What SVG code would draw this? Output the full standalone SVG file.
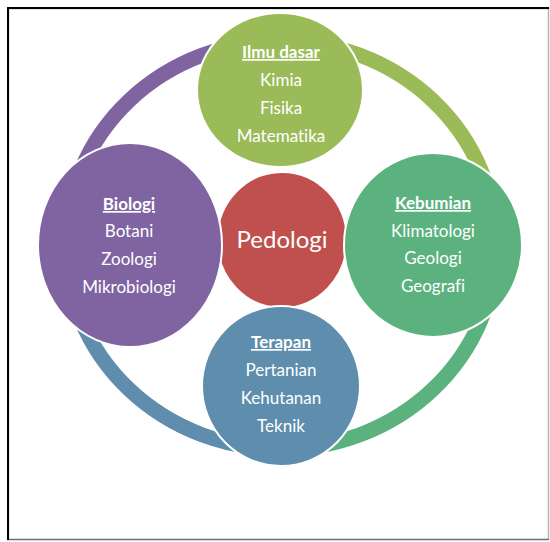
<svg xmlns="http://www.w3.org/2000/svg" width="550" height="542" viewBox="0 0 550 542">
  <style>
    .ring { fill: none; stroke-width: 15; }
    .node { stroke: #ffffff; stroke-width: 2; }
    .t { font-family: Lato, "Liberation Sans", sans-serif; font-size: 17px; fill: #ffffff; text-anchor: middle; font-variant-ligatures: none; }
    .h { font-weight: bold; text-decoration: underline; }
    .big { font-size: 24px; }
  </style>
  <rect x="0" y="0" width="550" height="542" fill="#ffffff"/>
  <g id="frame">
    <line x1="9.5" y1="9.5" x2="548" y2="9.5" stroke="#e6e6e6" stroke-width="1"/>
    <line x1="9.5" y1="9.5" x2="9.5" y2="538" stroke="#e6e6e6" stroke-width="1"/>
    <line x1="548.5" y1="7" x2="548.5" y2="540" stroke="#b4b4b4" stroke-width="1.5"/>
    <line x1="7" y1="539.5" x2="549" y2="539.5" stroke="#6e6e6e" stroke-width="1.5"/>
    <line x1="7" y1="8" x2="549" y2="8" stroke="#000000" stroke-width="2"/>
    <line x1="8" y1="7" x2="8" y2="540" stroke="#000000" stroke-width="2"/>
  </g>
  <g id="connectors">
    <path class="ring" stroke="#8064A2" d="M 66 245 A 215 204 0 0 1 281 41"/>
    <path class="ring" stroke="#9BBB59" d="M 281 41 A 215 204 0 0 1 496 245"/>
    <path class="ring" stroke="#5BB27E" d="M 496 245 A 215 204 0 0 1 281 449"/>
    <path class="ring" stroke="#5E8DAD" d="M 281 449 A 215 204 0 0 1 66 245"/>
  </g>
  <g id="pedologi">
    <ellipse class="node" cx="282" cy="240" rx="65" ry="68" fill="#C0504D"/>
    <text class="t big" x="282" y="248">Pedologi</text>
  </g>
  <g id="ilmu-dasar">
    <ellipse class="node" cx="280" cy="90" rx="83" ry="77" fill="#9BBB59"/>
    <text class="t h" x="281" y="58">Ilmu dasar</text>
    <text class="t" x="281" y="86">Kimia</text>
    <text class="t" x="281" y="114">Fisika</text>
    <text class="t" x="281" y="142">Matematika</text>
  </g>
  <g id="biologi">
    <ellipse class="node" cx="130" cy="245" rx="92" ry="102" fill="#8064A2"/>
    <text class="t h" x="129" y="210">Biologi</text>
    <text class="t" x="129" y="237">Botani</text>
    <text class="t" x="129" y="265">Zoologi</text>
    <text class="t" x="129" y="293">Mikrobiologi</text>
  </g>
  <g id="kebumian">
    <ellipse class="node" cx="433" cy="245" rx="89" ry="92" fill="#5BB27E"/>
    <text class="t h" x="433" y="209">Kebumian</text>
    <text class="t" x="433" y="237">Klimatologi</text>
    <text class="t" x="433" y="264">Geologi</text>
    <text class="t" x="433" y="292">Geografi</text>
  </g>
  <g id="terapan">
    <ellipse class="node" cx="281" cy="386" rx="79" ry="80" fill="#5E8DAD"/>
    <text class="t h" x="281" y="348">Terapan</text>
    <text class="t" x="281" y="376">Pertanian</text>
    <text class="t" x="281" y="404">Kehutanan</text>
    <text class="t" x="281" y="432">Teknik</text>
  </g>
</svg>
